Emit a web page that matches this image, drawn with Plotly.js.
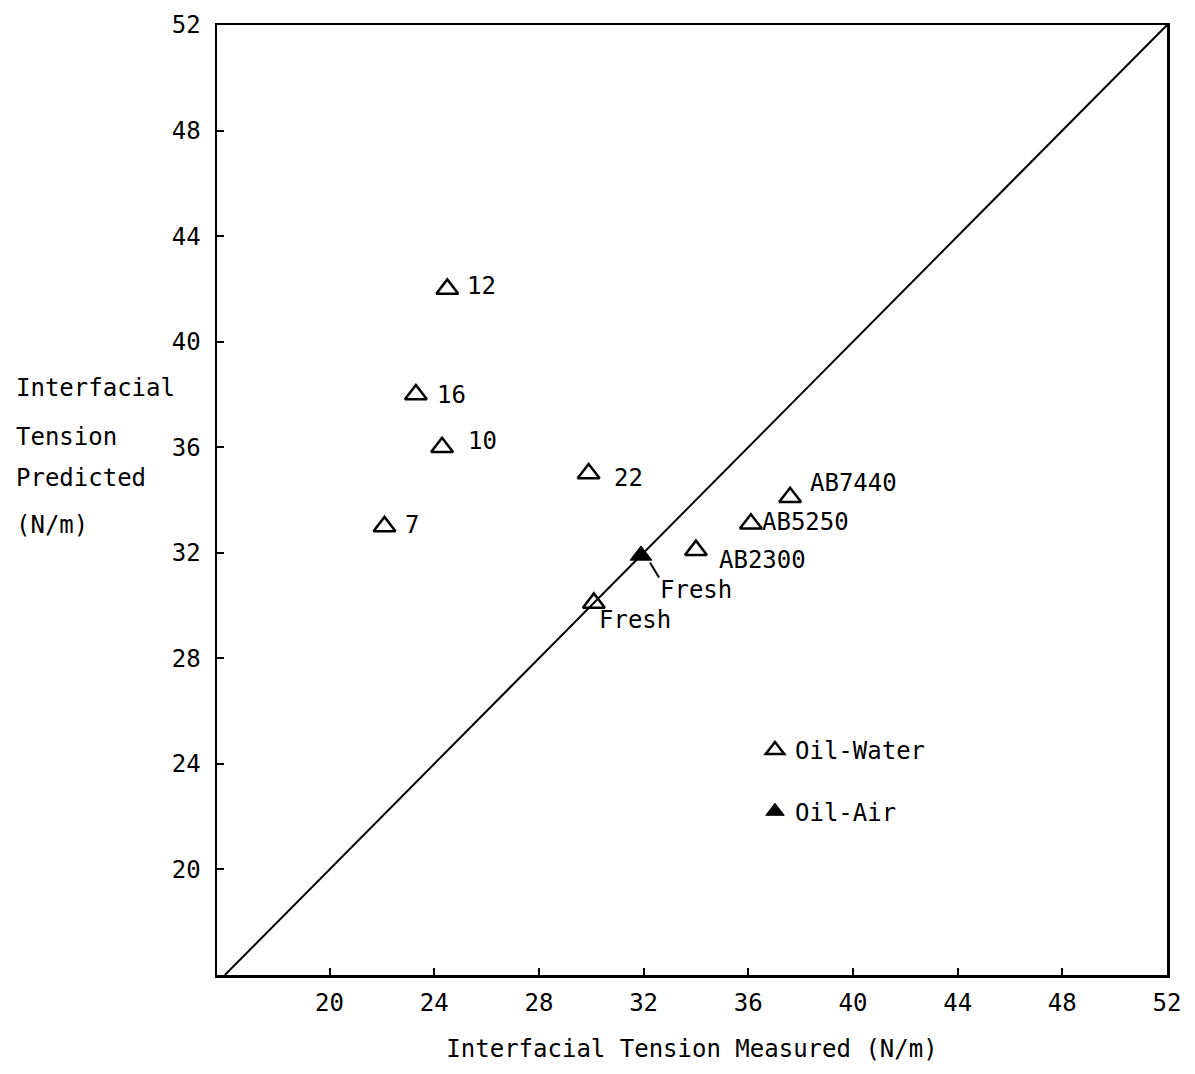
<!DOCTYPE html>
<html>
<head>
<meta charset="utf-8">
<script src="https://cdn.plot.ly/plotly-3.0.1.min.js"></script>
<style>html,body{margin:0;padding:0;background:#fff;}#chart{width:1195px;height:1074px;}</style>
</head>
<body>
<div id="chart"></div>
<script>
// ---- data ----
const waterLabels    = ['12', '16', '10', '7', '22', 'AB7440', 'AB5250', 'AB2300', 'Fresh'];
const waterMeasured  = [24.5, 23.3, 24.3, 22.1, 29.9, 37.6, 36.1, 34.0, 30.1];
const waterPredicted = [42.0, 38.0, 36.0, 33.0, 35.0, 34.1, 33.1, 32.1, 30.1];
const airLabels      = ['Fresh'];
const airMeasured    = [31.9];
const airPredicted   = [31.9];
const parityX        = [16, 52];
const parityY        = [16, 52];
const xTickVals      = [20, 24, 28, 32, 36, 40, 44, 48, 52];
const yTickVals      = [20, 24, 28, 32, 36, 40, 44, 48, 52];
const seriesNames    = ['Oil-Water', 'Oil-Air'];
const xTitle         = 'Interfacial Tension Measured (N/m)';
const yTitleLines    = ['Interfacial', 'Tension', 'Predicted', '(N/m)'];

// ---- styling / label placement (pixels) ----
const FONT = 'DejaVu Sans Mono, Liberation Mono, monospace';
const waterShift = [[18, 3], [19, -1], [24, 6], [19, 1], [23, -4], [18, 14], [9, 2], [21, -10], [3, -17]];
const airShift   = [[17, -35]];
const yTitleY    = [388, 437, 478, 525];

const annotations = [];
waterLabels.forEach((t, i) => annotations.push({
  x: waterMeasured[i], y: waterPredicted[i], xref: 'x', yref: 'y', text: t,
  showarrow: false, xanchor: 'left', yanchor: 'middle',
  xshift: waterShift[i][0], yshift: waterShift[i][1],
  font: {family: FONT, size: 24, color: '#000'}
}));
airLabels.forEach((t, i) => annotations.push({
  x: airMeasured[i], y: airPredicted[i], xref: 'x', yref: 'y', text: t,
  showarrow: false, xanchor: 'left', yanchor: 'middle',
  xshift: airShift[i][0], yshift: airShift[i][1],
  font: {family: FONT, size: 24, color: '#000'}
}));
const L = 217, T = 25, W = 950, H = 950;
yTitleLines.forEach((t, i) => annotations.push({
  x: (14 - L) / W, y: (T + H - yTitleY[i]) / H, xref: 'paper', yref: 'paper',
  text: t, showarrow: false, xanchor: 'left', yanchor: 'middle',
  font: {family: FONT, size: 24, color: '#000'}
}));

const traces = [
  {x: parityX, y: parityY, mode: 'lines', line: {color: '#000', width: 2},
   showlegend: false, hoverinfo: 'skip'},
  {x: waterMeasured, y: waterPredicted, mode: 'markers', name: seriesNames[0],
   legendgroup: 'a', text: waterLabels,
   marker: {symbol: 'triangle-up-open', size: 19, color: '#000', line: {width: 2.5, color: '#000'}}},
  {x: airMeasured, y: airPredicted, mode: 'markers', name: seriesNames[1],
   legendgroup: 'b', text: airLabels,
   marker: {symbol: 'triangle-up', size: 19, color: '#000', line: {width: 1, color: '#000'}}}
];

const axisBase = {
  showgrid: false, zeroline: false, showline: true, mirror: true,
  linecolor: '#000', linewidth: 2.5, ticks: 'inside', ticklen: 7, tickwidth: 2,
  tickcolor: '#000', tickfont: {family: FONT, size: 24, color: '#000'}
};

const layout = {
  width: 1195, height: 1074,
  margin: {l: L, r: 1195 - L - W, t: T, b: 1074 - T - H},
  paper_bgcolor: '#fff', plot_bgcolor: '#fff',
  font: {family: FONT, color: '#000'},
  xaxis: Object.assign({}, axisBase, {
    range: [15.7, 52], tickvals: xTickVals, ticklabelstandoff: 5,
    title: {text: xTitle, font: {family: FONT, size: 24, color: '#000'}, standoff: 24}
  }),
  yaxis: Object.assign({}, axisBase, {
    range: [16, 52], tickvals: yTickVals, ticklabelstandoff: 9
  }),
  showlegend: true,
  legend: {
    x: (755 - L) / W, y: (T + H - 728) / H, xanchor: 'left', yanchor: 'top',
    traceorder: 'grouped', tracegroupgap: 27, bgcolor: 'rgba(0,0,0,0)',
    font: {family: FONT, size: 24, color: '#000'}
  },
  shapes: [{
    type: 'line', xref: 'x', yref: 'y', xsizemode: 'pixel', ysizemode: 'pixel',
    xanchor: airMeasured[0], yanchor: airPredicted[0],
    x0: 9, x1: 18, y0: -7, y1: -22, line: {color: '#000', width: 2}
  }],
  annotations: annotations
};

Plotly.newPlot('chart', traces, layout, {displayModeBar: false, staticPlot: true});
</script>
</body>
</html>
